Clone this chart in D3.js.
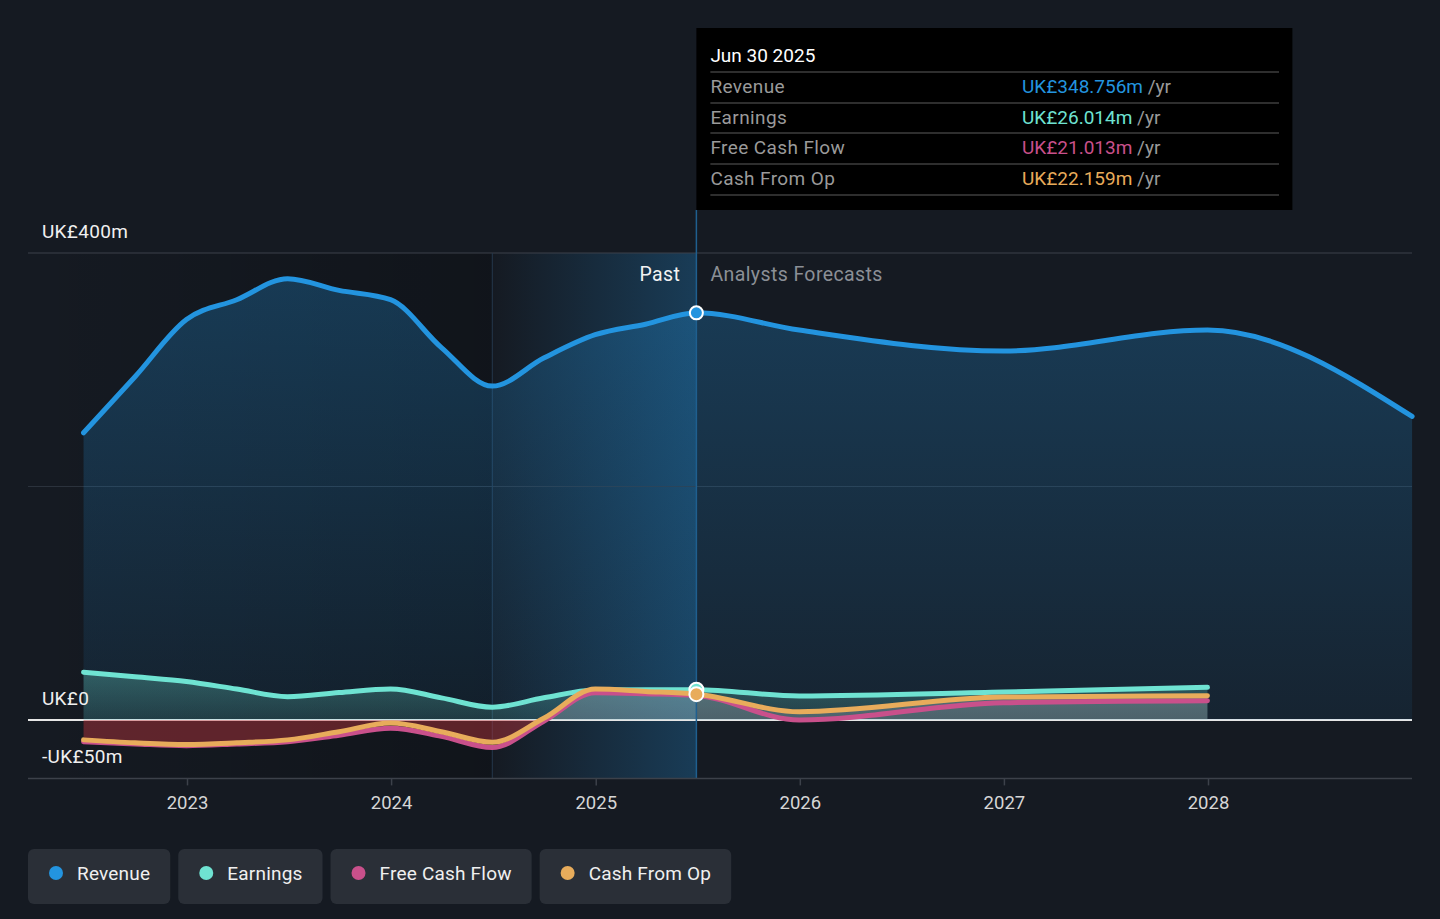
<!DOCTYPE html>
<html>
<head>
<meta charset="utf-8">
<script src="https://cdn.jsdelivr.net/npm/d3@7"></script>
<style>
  html, body { margin: 0; padding: 0; background: #151a22; }
  svg { display: block; font-family: Roboto, "Noto Sans", sans-serif; }
</style>
</head>
<body>
<div id="chart"></div>
<script>
// data (UK£m)
const pastDates = ["2022-06-30","2022-09-30","2022-12-31","2023-03-31","2023-06-30","2023-09-30",
  "2023-12-31","2024-03-31","2024-06-30","2024-09-30","2024-12-31","2025-03-31","2025-06-30"];
const revenuePast  = [246, 294, 343, 360, 378, 368, 360, 319, 286, 310, 330, 339, 348.756];
const earningsPast = [41, 37, 33, 26.5, 20, 23.5, 26.6, 19, 11, 19, 25.7, 26, 26.014];
const fcfPast      = [-18.6, -20.5, -22, -20.5, -18.6, -13, -7, -14, -23.5, -1, 23.4, 22.5, 21.013];
const cfoPast      = [-17, -19.5, -21, -19.5, -17, -10, -2.6, -10, -19, 1.5, 26.5, 24.5, 22.159];

const fcDates      = ["2025-06-30","2025-12-31","2026-12-31","2027-12-31"];
const earningsFc   = [26.014, 20.6, 24, 28];
const fcfFc        = [21.013, 0, 14.8, 16.5];
const cfoFc        = [22.159, 7.1, 19.7, 20.8];
const revFcDates   = ["2025-06-30","2025-12-31","2026-12-31","2027-12-31","2028-12-31"];
const revenueFc    = [348.756, 334, 316, 334, 260];

const yearTicks = [2023, 2024, 2025, 2026, 2027, 2028];
const yLabels = [[400, "UK£400m"], [0, "UK£0"], [-50, "-UK£50m"]];

const seriesNames  = ["Revenue", "Earnings", "Free Cash Flow", "Cash From Op"];
const seriesColors = ["#2394df", "#6fe3d2", "#c9508b", "#e8ac5b"];
const tipValues    = ["UK£348.756m", "UK£26.014m", "UK£21.013m", "UK£22.159m"];

const W = 1440, H = 919;
const parse = d3.timeParse("%Y-%m-%d");
const svg = d3.select("#chart").append("svg").attr("width", W).attr("height", H);

const x = d3.scaleTime()
  .domain([new Date(2023, 0, 1), new Date(2028, 0, 1)])
  .range([187, 1208]);
const y = d3.scaleLinear().domain([-50, 400]).range([778.4, 253]);
const L = 28, R = 1412;
const nowX = x(parse("2025-06-30"));
const pastStart = x(parse("2024-06-30"));

const zip = (ds, vs) => ds.map((d, i) => ({ date: parse(d), v: vs[i] }));
const rev = zip(pastDates, revenuePast).concat(zip(revFcDates, revenueFc).slice(1));
const earn = zip(pastDates, earningsPast).concat(zip(fcDates, earningsFc).slice(1));
const fcf = zip(pastDates, fcfPast).concat(zip(fcDates, fcfFc).slice(1));
const cfo = zip(pastDates, cfoPast).concat(zip(fcDates, cfoFc).slice(1));

const defs = svg.append("defs");
function lin(id, stops, vertical) {
  const g = defs.append("linearGradient").attr("id", id)
    .attr("x1", "0%").attr("y1", "0%")
    .attr("x2", vertical ? "0%" : "100%").attr("y2", vertical ? "100%" : "0%");
  stops.forEach(([o, c, a]) => g.append("stop").attr("offset", o).attr("stop-color", c).attr("stop-opacity", a));
}
lin("past-shade", [["0%", "#000", 0], ["100%", "#000", 0.22]], false);
lin("hi-shade", [["0%", "#2394df", 0.0], ["100%", "#2394df", 0.28]], false);
lin("rev-fill", [["0%", "#2394df", 0.28], ["100%", "#2394df", 0.08]], true);
lin("earn-fill", [["0%", "#6fe3d2", 0.3], ["100%", "#6fe3d2", 0.14]], true);

defs.append("clipPath").attr("id", "clip-pos").append("rect")
  .attr("x", L).attr("y", 0).attr("width", R - L).attr("height", y(0));
defs.append("clipPath").attr("id", "clip-neg").append("rect")
  .attr("x", L).attr("y", y(0)).attr("width", R - L).attr("height", H - y(0));

// background bands
svg.append("rect").attr("x", L).attr("y", y(400)).attr("width", pastStart - L)
  .attr("height", y(-50) - y(400)).attr("fill", "url(#past-shade)");
svg.append("rect").attr("x", pastStart).attr("y", y(400)).attr("width", nowX - pastStart)
  .attr("height", y(-50) - y(400)).attr("fill", "url(#hi-shade)");

// grid
svg.append("line").attr("x1", L).attr("x2", R).attr("y1", y(400)).attr("y2", y(400))
  .attr("stroke", "#3c414a").attr("stroke-width", 1.2);
svg.append("line").attr("x1", L).attr("x2", R).attr("y1", y(200)).attr("y2", y(200))
  .attr("stroke", "#2b323c").attr("stroke-width", 1);
svg.append("line").attr("x1", pastStart).attr("x2", pastStart).attr("y1", y(400)).attr("y2", y(-50))
  .attr("stroke", "#24384c").attr("stroke-width", 1);

// zero line under fills
svg.append("line").attr("x1", L).attr("x2", R).attr("y1", y(0)).attr("y2", y(0))
  .attr("stroke", "#e6e6e6").attr("stroke-width", 2);

const curve = d3.curveMonotoneX;
const area = d3.area().x(d => x(d.date)).y0(y(0)).y1(d => y(d.v)).curve(curve);
const line = d3.line().x(d => x(d.date)).y(d => y(d.v)).curve(curve);

svg.append("path").datum(rev).attr("d", area).attr("fill", "url(#rev-fill)");
svg.append("path").datum(earn).attr("d", area).attr("fill", "url(#earn-fill)");
svg.append("path").datum(cfo).attr("d", area).attr("fill", "#c8c8d2").attr("fill-opacity", 0.26)
  .attr("clip-path", "url(#clip-pos)");
svg.append("path").datum(cfo).attr("d", area).attr("fill", "#c8363f").attr("fill-opacity", 0.42)
  .attr("clip-path", "url(#clip-neg)");

// now marker line
svg.append("line").attr("x1", nowX).attr("x2", nowX).attr("y1", 210).attr("y2", y(-50))
  .attr("stroke", "#1f5f8f").attr("stroke-width", 1.5);

[[rev, 0], [earn, 1], [fcf, 2], [cfo, 3]].forEach(([data, i]) => {
  svg.append("path").datum(data).attr("d", line).attr("fill", "none")
    .attr("stroke", seriesColors[i]).attr("stroke-width", 5)
    .attr("stroke-linecap", "round").attr("stroke-linejoin", "round");
});

// markers at the latest reported point
[[rev, 0, 6.5], [earn, 1, 7], [cfo, 3, 7]].forEach(([data, i, r]) => {
  const d = data[pastDates.length - 1];
  svg.append("circle").attr("cx", x(d.date)).attr("cy", y(d.v)).attr("r", r)
    .attr("fill", seriesColors[i]).attr("stroke", "#fff").attr("stroke-width", 2);
});

// x axis
svg.append("line").attr("x1", L).attr("x2", R).attr("y1", y(-50)).attr("y2", y(-50))
  .attr("stroke", "#3c414a").attr("stroke-width", 1.5);
const xAxis = svg.append("g").attr("transform", `translate(0,${y(-50)})`)
  .call(d3.axisBottom(x).tickValues(yearTicks.map(v => new Date(v, 0, 1)))
    .tickFormat(d3.timeFormat("%Y")).tickSize(7).tickPadding(10));
xAxis.select(".domain").remove();
xAxis.selectAll("line").attr("stroke", "#3c414a").attr("stroke-width", 1.5);
xAxis.selectAll("text").attr("fill", "#d6d6d6").style("font-size", "18.5px")
  .style("font-family", "Roboto, sans-serif");

// y labels
svg.selectAll("text.ylab").data(yLabels).join("text").attr("class", "ylab")
  .attr("x", 42).attr("y", d => y(d[0]) - 15)
  .attr("fill", "#f0f0f0").style("font-size", "19px").style("letter-spacing", "0.3px")
  .text(d => d[1]);

// past / forecast captions
svg.append("text").attr("x", nowX - 16).attr("y", 281).attr("text-anchor", "end")
  .attr("fill", "#f2f2f2").style("font-size", "19.5px").style("letter-spacing", "0.4px").text("Past");
svg.append("text").attr("x", nowX + 14).attr("y", 281)
  .attr("fill", "#8b8f96").style("font-size", "19.5px").style("letter-spacing", "0.4px")
  .text("Analysts Forecasts");

// tooltip
const tip = svg.append("g");
tip.append("rect").attr("x", nowX).attr("y", 28).attr("width", 596).attr("height", 182).attr("fill", "#000");
tip.append("text").attr("x", nowX + 14).attr("y", 62).attr("fill", "#fff")
  .style("font-size", "19px").text("Jun 30 2025");
const rowY = [72, 103, 133, 164, 195];
rowY.forEach(ry => tip.append("line").attr("x1", nowX + 14).attr("x2", 1279)
  .attr("y1", ry).attr("y2", ry).attr("stroke", "#3e3e3e").attr("stroke-width", 1.5));
seriesNames.forEach((name, i) => {
  const ty = rowY[i] + 21;
  tip.append("text").attr("x", nowX + 14).attr("y", ty).attr("fill", "#9a9a9a")
    .style("font-size", "19px").style("letter-spacing", "0.4px").text(name);
  const t = tip.append("text").attr("x", 1022).attr("y", ty).style("font-size", "19px");
  t.append("tspan").attr("fill", seriesColors[i]).text(tipValues[i]);
  t.append("tspan").attr("fill", "#9a9a9a").text(" /yr");
});

// legend
let lx = 28;
seriesNames.forEach((name, i) => {
  const g = svg.append("g");
  const bg = g.append("rect").attr("x", lx).attr("y", 849).attr("height", 55).attr("rx", 6)
    .attr("fill", "#2a2f37");
  g.append("circle").attr("cx", lx + 28).attr("cy", 873).attr("r", 7).attr("fill", seriesColors[i]);
  const t = g.append("text").attr("x", lx + 49).attr("y", 880).attr("fill", "#f0f0f0")
    .style("font-size", "19px").style("letter-spacing", "0.2px").text(name);
  const w = t.node().getComputedTextLength() + 49 + 20;
  bg.attr("width", w);
  lx += w + 8;
});
</script>
</body>
</html>
